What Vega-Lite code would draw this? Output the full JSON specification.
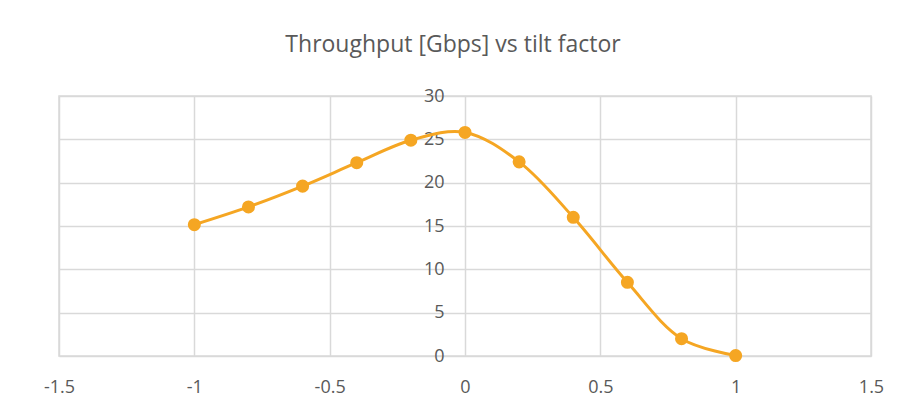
{
  "$schema": "https://vega.github.io/schema/vega-lite/v6.json",
  "autosize": "none",
  "width": 812,
  "height": 260,
  "padding": {"left": 59, "top": 96, "right": 32, "bottom": 52},
  "background": "white",
  "title": {
    "text": "Throughput [Gbps] vs tilt factor",
    "font": "Open Sans",
    "fontSize": 23,
    "fontWeight": "normal",
    "color": "#595959",
    "anchor": "middle",
    "frame": "group",
    "dx": -12,
    "offset": 30
  },
  "config": {
    "view": {"stroke": "#d9d9d9", "strokeWidth": 1.5},
    "axis": {
      "labelFont": "Open Sans",
      "labelFontSize": 18,
      "labelColor": "#595959",
      "gridColor": "#d9d9d9",
      "gridWidth": 1.5,
      "ticks": false,
      "domain": false,
      "title": null
    }
  },
  "data": {
    "values": [
      {"tilt": -1.0, "throughput": 15.15},
      {"tilt": -0.8, "throughput": 17.2},
      {"tilt": -0.6, "throughput": 19.6},
      {"tilt": -0.4, "throughput": 22.3},
      {"tilt": -0.2, "throughput": 24.9},
      {"tilt": 0.0, "throughput": 25.8},
      {"tilt": 0.2, "throughput": 22.4},
      {"tilt": 0.4, "throughput": 16.0},
      {"tilt": 0.6, "throughput": 8.5},
      {"tilt": 0.8, "throughput": 2.0},
      {"tilt": 1.0, "throughput": 0.05}
    ]
  },
  "encoding": {
    "x": {
      "field": "tilt",
      "type": "quantitative",
      "scale": {"domain": [-1.5, 1.5], "nice": false, "zero": false},
      "axis": {"values": [-1.5, -1, -0.5, 0, 0.5, 1, 1.5], "labelPadding": 22, "labelExpr": "toString(datum.value)", "labelFlush": false}
    },
    "y": {
      "field": "throughput",
      "type": "quantitative",
      "scale": {"domain": [0, 30], "nice": false},
      "axis": {"values": [0, 5, 10, 15, 20, 25, 30], "offset": -406, "labelPadding": 21, "grid": true}
    }
  },
  "layer": [
    {"mark": {"type": "line", "interpolate": "catmull-rom", "color": "#F5A623", "strokeWidth": 3}},
    {"mark": {"type": "point", "filled": true, "opacity": 1, "color": "#F5A623", "size": 170}}
  ]
}
